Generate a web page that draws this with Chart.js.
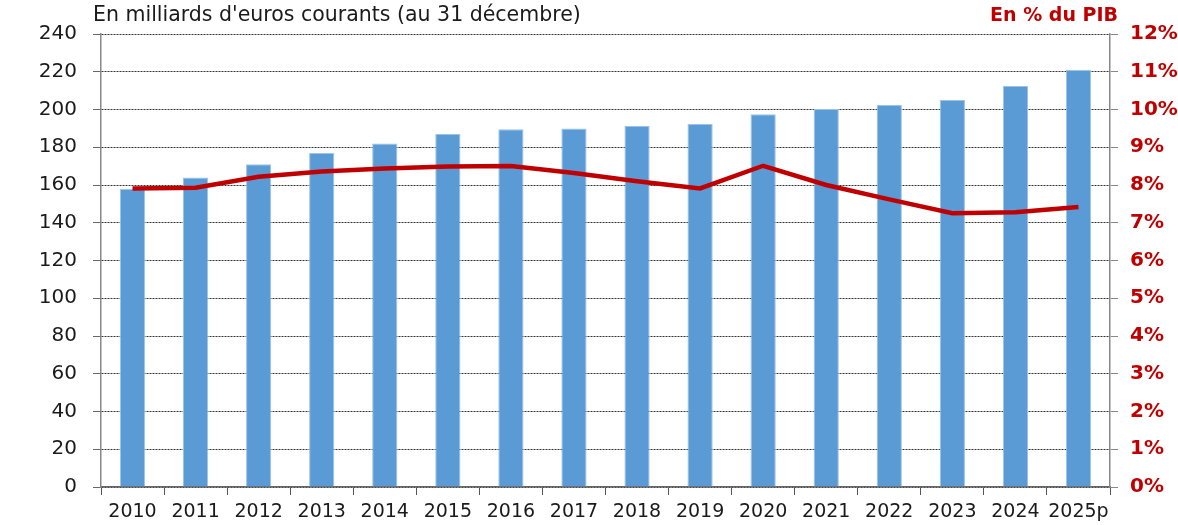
<!DOCTYPE html>
<html><head><meta charset="utf-8">
<script src="https://cdn.jsdelivr.net/npm/chart.js@4.4.1/dist/chart.umd.min.js"></script>
<style>html,body{margin:0;padding:0;background:#fff}#w{width:1178px;height:525px}</style>
</head><body><div id="w"><canvas id="c" width="1178" height="525"></canvas></div>
<script>
const categories = ["2010","2011","2012","2013","2014","2015","2016","2017","2018","2019","2020","2021","2022","2023","2024","2025p"];
const amounts = [158,164,171,177,182,187,189.5,190,191.3,192.3,197.5,200.3,202.4,205,212.5,221];
const pctGDP = [7.91,7.93,8.22,8.36,8.44,8.49,8.5,8.32,8.1,7.91,8.51,8.0,7.62,7.25,7.28,7.42];
const leftTitle = "En milliards d'euros courants (au 31 décembre)";
const rightTitle = "En % du PIB";
const FONT = "'DejaVu Sans', sans-serif";

const titles = {
  id:'titles',
  afterDraw(ch){
    const c = ch.ctx; c.save();
    c.textBaseline='middle';
    c.font = "20.5px " + FONT; c.fillStyle='#1a1a1a'; c.textAlign='left';
    c.fillText(leftTitle, 93, 16);
    c.font = "bold 19px " + FONT; c.fillStyle='#C00000'; c.textAlign='right';
    c.fillText(rightTitle, 1118, 16);
    c.restore();
  }
};

new Chart(document.getElementById('c'), {
  data: {
    labels: categories,
    datasets: [
      { type:'line', data: pctGDP, yAxisID:'y2', borderColor:'#C00000', borderWidth:4.5, pointRadius:0, tension:0, order:0 },
      { type:'bar', data: amounts, yAxisID:'y', backgroundColor:'#5B9BD5', borderColor:'#9DC3E6', borderWidth:1, categoryPercentage:1, barPercentage:0.4, order:1 }
    ]
  },
  plugins:[titles],
  options: {
    responsive:false, animation:false,
    layout:{padding:{top:34,left:0,right:0,bottom:0}},
    plugins:{legend:{display:false}, tooltip:{enabled:false}},
    scales:{
      x:{
        offset:true,
        grid:{offset:true, drawOnChartArea:false, drawTicks:true, tickLength:8, tickColor:'#555', color:'#555'},
        border:{color:'#666', width:1.5},
        ticks:{color:'#1a1a1a', font:{family:FONT, size:19}, padding:6, maxRotation:0, autoSkip:false},
        afterFit(s){ s.height = 38; }
      },
      y:{
        position:'left', min:0, max:240,
        ticks:{stepSize:20, color:'#1a1a1a', font:{family:FONT, size:20}, padding:16},
        grid:{color:'#333', lineWidth:1, tickLength:8, tickColor:'#666', tickBorderDash:[]},
        border:{color:'#888', width:1.5, dash:[2,1]},
        afterFit(s){ s.width = 101; }
      },
      y2:{
        position:'right', min:0, max:12,
        ticks:{stepSize:1, color:'#C00000', font:{family:FONT, size:20, weight:'bold'}, padding:12, callback:v=>v+'%'},
        grid:{drawOnChartArea:false, tickLength:8, tickColor:'#888'},
        border:{color:'#888', width:1.5},
        afterFit(s){ s.width = 68; }
      }
    }
  }
});
</script></body></html>
